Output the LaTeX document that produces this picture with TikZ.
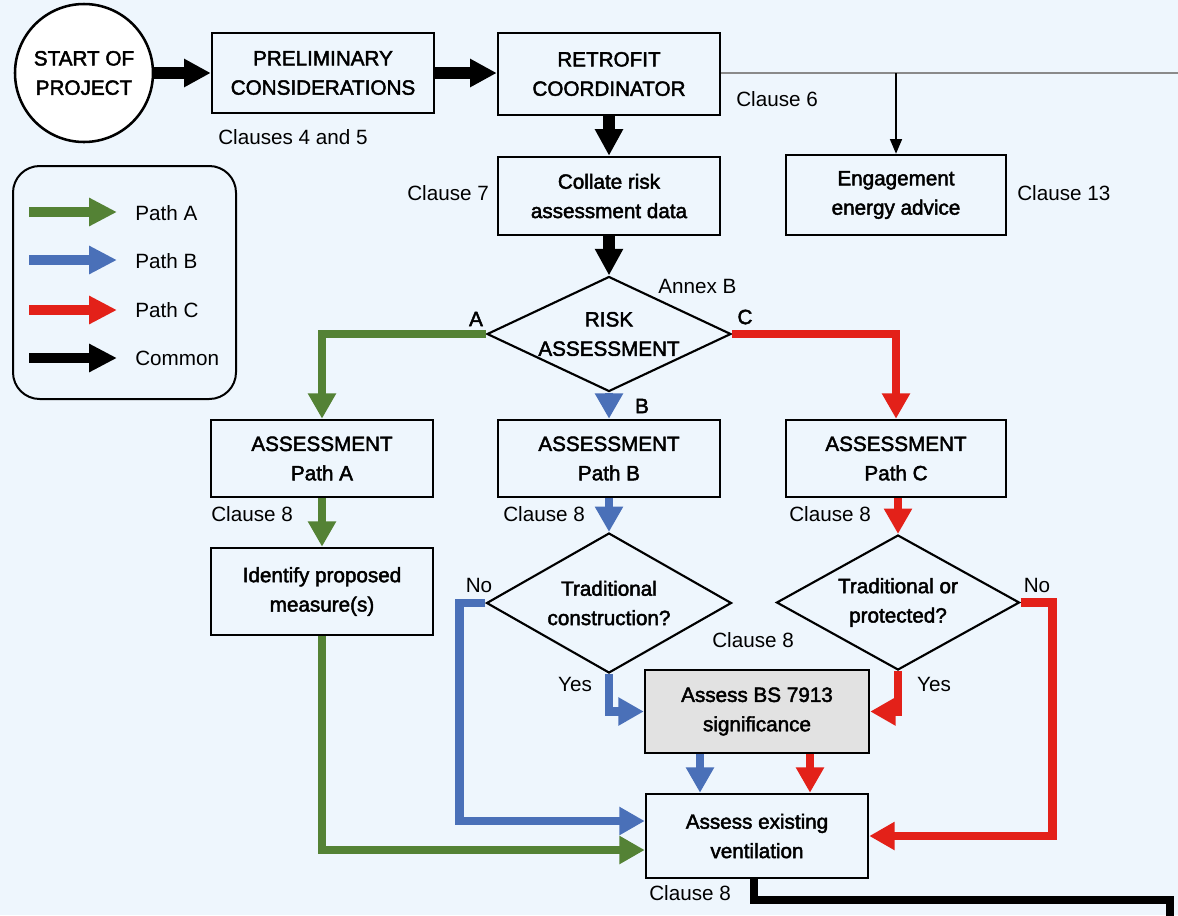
\documentclass[tikz,border=0pt]{standalone}
\usepackage{fontspec}
\setmainfont{Liberation Sans}[BoldFont={Liberation Sans},BoldFeatures={FakeBold=2.2}]
\usetikzlibrary{arrows.meta,shapes.geometric,calc}
\definecolor{bg}{HTML}{EEF6FD}
\definecolor{pA}{HTML}{548235}
\definecolor{pB}{HTML}{4A70B8}
\definecolor{pC}{HTML}{E32119}
\definecolor{gbox}{HTML}{E2E2E2}
\definecolor{thinline}{HTML}{8A8A8A}
\begin{document}
\begin{tikzpicture}[x=0.75pt,y=-0.75pt,
  every node/.style={font=\fontsize{15.5}{22}\selectfont},
  box/.style={draw,line width=1.9pt,fill=bg,align=center,inner sep=0pt,font=\fontsize{15.5}{22}\selectfont\bfseries},
  dia/.style={draw,diamond,line width=1.6pt,fill=bg,inner sep=0pt},
  diatext/.style={align=center,inner sep=0pt,font=\fontsize{15.5}{22}\selectfont\bfseries},
  lbl/.style={anchor=west,inner sep=0pt},
  letter/.style={inner sep=0pt,font=\fontsize{15.5}{22}\selectfont\bfseries},
  bk/.style={line width=8.3pt,black,-{Triangle[length=20pt,width=20pt]}},
  bkline/.style={line width=6.5pt,black},
  pa/.style={line width=6.4pt,draw=pA,-{Triangle[length=19pt,width=20pt,fill=pA]}},
  pb/.style={line width=6.4pt,draw=pB,-{Triangle[length=19pt,width=20pt,fill=pB]}},
  pc/.style={line width=6.4pt,draw=pC,-{Triangle[length=19pt,width=20pt,fill=pC]}},
  thinarrow/.style={line width=1.1pt,black,-{Triangle[length=11pt,width=9pt]}},
  legarrow/.style={line width=6.8pt,-{Triangle[length=21pt,width=20pt]}}
]
\useasboundingbox (0,0) rectangle (1178,915);
\fill[bg] (0,0) rectangle (1178,915);

% start circle
\node[draw,circle,line width=1.9pt,fill=white,minimum size=103.5pt,inner sep=0pt,align=center,font=\fontsize{15.5}{22}\selectfont\bfseries] (start) at (84,73) {START OF\\PROJECT};

% boxes
\node[box,minimum width=166.5pt,minimum height=60pt] (prelim) at (323,73) {PRELIMINARY\\CONSIDERATIONS};
\node[box,minimum width=166.5pt,minimum height=61.5pt] (retro) at (609,74) {RETROFIT\\COORDINATOR};
\node[box,minimum width=166.5pt,minimum height=58.5pt] (collate) at (609,196) {Collate risk\\assessment data};
\node[box,minimum width=165pt,minimum height=60pt] (engage) at (896,195) {Engagement\\energy advice};
\node[dia,minimum width=183pt,minimum height=86.25pt] (risk) at (609,334) {};
\node[diatext] (riskt) at (risk.center) {RISK\\ASSESSMENT};
\node[box,minimum width=166.5pt,minimum height=57.75pt] (assA) at (322,458.5) {ASSESSMENT\\Path A};
\node[box,minimum width=166.5pt,minimum height=57.75pt] (assB) at (609,458.5) {ASSESSMENT\\Path B};
\node[box,minimum width=165pt,minimum height=57.75pt] (assC) at (896,458.5) {ASSESSMENT\\Path C};
\node[box,minimum width=166.5pt,minimum height=65.25pt] (ident) at (322,591.5) {Identify proposed\\measure(s)};
\node[dia,minimum width=183.75pt,minimum height=105pt] (trad) at (609,603) {};
\node[diatext] (tradt) at (trad.center) {Traditional\\construction?};
\node[dia,minimum width=182.25pt,minimum height=101.25pt] (prot) at (898,602.5) {};
\node[diatext] (prott) at (prot.center) {Traditional or\\protected?};
\node[box,fill=gbox,minimum width=168pt,minimum height=62.25pt] (bs) at (757,711.5) {Assess BS 7913\\significance};
\node[box,minimum width=166.5pt,minimum height=63pt] (exist) at (757,836) {Assess existing\\ventilation};

% labels
\node[lbl] (l45) at (218,137) {Clauses 4 and 5};
\node[lbl] (l6) at (736,99) {Clause 6};
\node[lbl] (l7) at (407,193) {Clause 7};
\node[lbl] (l13) at (1017,193) {Clause 13};
\node[lbl] (lann) at (658,286) {Annex B};
\node[letter] (la) at (476,319) {A};
\node[letter] (lc) at (745,317) {C};
\node[letter] (lb) at (642,406) {B};
\node[lbl] (l8a) at (211,514) {Clause 8};
\node[lbl] (l8b) at (503,514) {Clause 8};
\node[lbl] (l8c) at (789,514) {Clause 8};
\node[inner sep=0pt] (nol) at (479,585) {No};
\node[inner sep=0pt] (yesl) at (575,684) {Yes};
\node[lbl] (l8m) at (712,640) {Clause 8};
\node[inner sep=0pt] (nor) at (1037,585) {No};
\node[inner sep=0pt] (yesr) at (934,684) {Yes};
\node[lbl] (l8e) at (649,893) {Clause 8};

% coordinates
\coordinate (edgeR) at (1178,73);
\coordinate (offpage) at (1170,930);

% common connectors
\draw[bk] (start) -- (prelim.west);
\draw[bk] (prelim.east) -- (prelim.east -| retro.west);
\draw[bk] (retro) -- (collate);
\draw[bk] (collate) -- (risk.north);
\draw[line width=1.6pt,thinline] (retro.east |- edgeR) -- (edgeR);
\draw[thinarrow] (engage.north |- edgeR) -- (engage.north);

% paths from risk assessment
\draw[pa] (risk.west) -| (assA.north);
\draw[pb] (risk.south) -- (assB.north);
\draw[pc] (risk.east) -| (assC.north);

\draw[pa] (assA) -- (ident);
\draw[pb] (assB) -- (trad.north);
\draw[pc] (prot.north |- assC.south) -- (prot.north);

\draw[pb] (trad.west) -- ++(-26,0) |- ($(exist.west)+(0,-15)$);
\draw[pb] (trad.south) |- (bs.west);
\draw[pc] (prot.south) |- (bs.east);
\draw[pc] (prot.east) -- ++(32,0) |- (exist.east);
\draw[pb] ($(bs.south)+(-57,0)$) -- ($(exist.north)+(-57,0)$);
\draw[pc] ($(bs.south)+(53,0)$) -- ($(exist.north)+(53,0)$);
\draw[pa] (ident.south) |- ($(exist.west)+(0,14)$);

\draw[bkline] ($(exist.south)+(-3,0)$) |- (offpage |- 0,900) -- (offpage);

% legend
\draw[line width=1.5pt,rounded corners=20pt] (13,166) rectangle (236,399);
\coordinate (la1) at (29,212); \coordinate (la2) at (117,212);
\coordinate (lb1) at (29,260); \coordinate (lb2) at (117,260);
\coordinate (lc1) at (29,310); \coordinate (lc2) at (117,310);
\coordinate (ld1) at (29,358); \coordinate (ld2) at (117,358);
\draw[legarrow,pA] (la1) -- (la2);
\draw[legarrow,pB] (lb1) -- (lb2);
\draw[legarrow,pC] (lc1) -- (lc2);
\draw[legarrow,black] (ld1) -- (ld2);
\node[lbl] (tA) at (135,213) {Path A};
\node[lbl] (tB) at (135,261) {Path B};
\node[lbl] (tC) at (135,310) {Path C};
\node[lbl] (tD) at (135,358) {Common};
\end{tikzpicture}
\end{document}
